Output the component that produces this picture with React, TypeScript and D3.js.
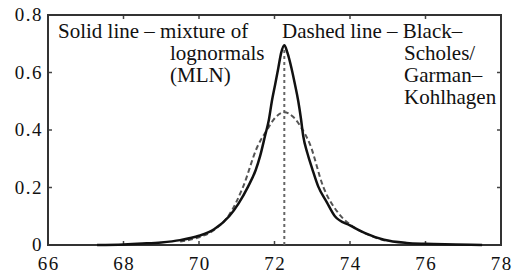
import * as d3 from "d3";

// mixture of lognormals (solid)
const mlnX = [67.3, 68.0, 68.5, 69.0, 69.5, 70.0, 70.4, 70.8, 71.05, 71.3, 71.5, 71.62, 71.75, 71.85, 71.93, 72.02, 72.1, 72.18, 72.26, 72.34, 72.45, 72.54, 72.63, 72.7, 72.76, 72.87, 73.0, 73.16, 73.38, 73.6, 74.0, 74.4, 74.9, 75.5, 76.0, 76.8, 77.5];
const mlnY = [0.0, 0.002, 0.005, 0.009, 0.017, 0.032, 0.055, 0.1, 0.145, 0.203, 0.26, 0.31, 0.38, 0.435, 0.5, 0.56, 0.615, 0.67, 0.695, 0.67, 0.615, 0.56, 0.5, 0.44, 0.38, 0.32, 0.265, 0.203, 0.15, 0.1, 0.068, 0.041, 0.018, 0.007, 0.004, 0.002, 0.0];

// Black-Scholes / Garman-Kohlhagen (dashed)
const bsX = [69.5, 70.0, 70.4, 70.8, 71.17, 71.54, 71.8, 72.0, 72.26, 72.5, 72.7, 72.94, 73.29, 73.73, 74.1, 74.5, 75.0];
const bsY = [0.012, 0.027, 0.052, 0.105, 0.203, 0.34, 0.4, 0.44, 0.462, 0.445, 0.41, 0.35, 0.203, 0.105, 0.062, 0.035, 0.012];

const forward = 72.26;
const forwardTop = 0.695;

const xTicks = [66, 68, 70, 72, 74, 76, 78];
const yTicks = [0, 0.2, 0.4, 0.6, 0.8];

const leftNote = ["Solid line \u2013 mixture of", "lognormals", "(MLN)"];
const rightNote = ["Dashed line \u2013 Black\u2013", "Scholes/", "Garman\u2013", "Kohlhagen"];

const width = 512;
const height = 276;
const margin = { top: 15, right: 11, bottom: 31, left: 48 };
const font = "Liberation Serif";

const x = d3.scaleLinear().domain([66, 78]).range([margin.left, width - margin.right]);
const y = d3.scaleLinear().domain([0, 0.8]).range([height - margin.bottom, margin.top]);
const line = d3.line<[number, number]>()
  .x((d) => x(d[0]))
  .y((d) => y(d[1]))
  .curve(d3.curveMonotoneX);

export default function App() {
  const mlnPath = line(mlnX.map((v, i) => [v, mlnY[i]]));
  const bsPath = line(bsX.map((v, i) => [v, bsY[i]]));
  const tick = 4;
  const tickStyle = { fontFamily: font, fontSize: 19, letterSpacing: 1.5 };

  return (
    <svg width={width} height={height} style={{ position: "absolute", left: 0, top: 0, background: "#fff" }}>
      {/* inward ticks on all four sides */}
      {xTicks.map((t) => (
        <g key={"xt" + t} stroke="#444" strokeWidth={1.5}>
          <line x1={x(t)} x2={x(t)} y1={y(0)} y2={y(0) - tick} />
          <line x1={x(t)} x2={x(t)} y1={y(0.8)} y2={y(0.8) + tick} />
        </g>
      ))}
      {yTicks.map((t) => (
        <g key={"yt" + t} stroke="#444" strokeWidth={1.5}>
          <line x1={x(66)} x2={x(66) + tick} y1={y(t)} y2={y(t)} />
          <line x1={x(78)} x2={x(78) - tick} y1={y(t)} y2={y(t)} />
        </g>
      ))}
      {xTicks.map((t) => (
        <text key={"xl" + t} x={x(t) + 0.75} y={y(0) + 25} textAnchor="middle" fill="#111"
          style={tickStyle}>{t}</text>
      ))}
      {yTicks.map((t) => (
        <text key={"yl" + t} x={x(66) - 5} y={y(t)} dy="0.33em" textAnchor="end" fill="#111"
          style={tickStyle}>{String(t)}</text>
      ))}

      <rect x={x(66)} y={y(0.8)} width={x(78) - x(66)} height={y(0) - y(0.8)}
        fill="none" stroke="#333" strokeWidth={2} />

      <line x1={x(forward)} x2={x(forward)} y1={y(0)} y2={y(forwardTop)}
        stroke="#666" strokeWidth={2} strokeDasharray="3,3" />
      <path d={bsPath ?? ""} fill="none" stroke="#555" strokeWidth={2} strokeDasharray="5,3" />
      <path d={mlnPath ?? ""} fill="none" stroke="#111" strokeWidth={2.5} />

      <g fill="#111" style={{ fontFamily: font, fontSize: 21 }}>
        <text x={58} y={38}>{leftNote[0]}</text>
        <text x={170} y={60}>{leftNote[1]}</text>
        <text x={170} y={82}>{leftNote[2]}</text>
        <text x={282} y={38}>{rightNote[0]}</text>
        {rightNote.slice(1).map((t, i) => (
          <text key={t} x={404} y={60 + i * 22}>{t}</text>
        ))}
      </g>
    </svg>
  );
}
